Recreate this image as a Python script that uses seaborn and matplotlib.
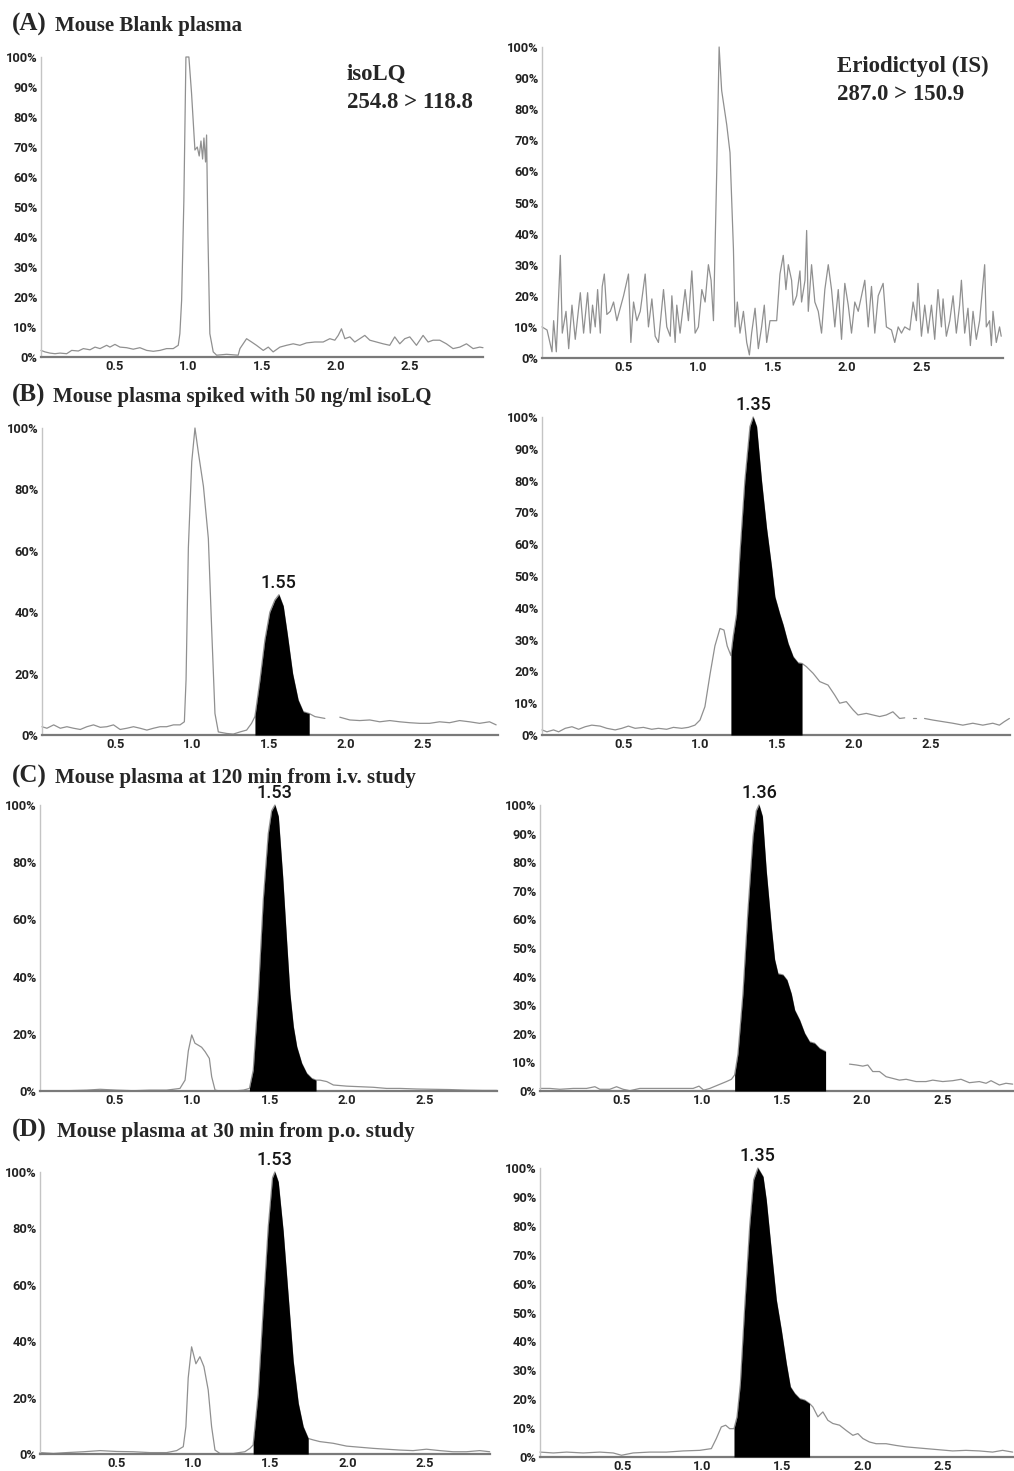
import numpy as np
import pandas as pd
import matplotlib
matplotlib.use("Agg")
import matplotlib.pyplot as plt
import seaborn as sns

# ---------------- data (time in min, relative intensity in %) ----------------
A_ISO_T = [0.0,0.027,0.061,0.095,0.129,0.174,0.208,0.253,0.287,0.332,0.366,0.4,0.445,0.467,0.501,0.535,0.58,0.625,0.67,0.716,
           0.761,0.806,0.851,0.896,0.93,0.941,0.953,0.968,0.982,1.002,1.02,1.043,1.059,1.072,1.084,1.095,1.104,1.115,1.122,1.131,
           1.144,1.167,1.19,1.257,1.336,1.348,1.393,1.427,1.46,1.506,1.54,1.573,1.619,1.664,1.709,1.754,1.799,1.856,1.912,1.957,
           1.991,2.014,2.036,2.059,2.093,2.126,2.16,2.194,2.228,2.273,2.318,2.363,2.397,2.431,2.465,2.499,2.544,2.589,2.623,2.657,
           2.702,2.747,2.792,2.838,2.883,2.928,2.973,2.995]
A_ISO_V = [2.2,1.7,1.3,1.1,1.3,1.1,2.2,2.0,2.8,2.4,3.3,2.8,3.9,3.3,4.2,3.3,3.1,2.6,3.1,2.2,
           1.9,2.2,2.8,2.8,3.9,7.8,19,52,100,100,88,69,70,67,72,66,73,65,74,41,
           7.8,1.7,0.6,0.9,0.6,2.8,6.1,5.0,3.9,2.2,3.3,1.7,3.3,3.9,4.4,3.9,4.7,5.0,5.0,6.1,
           5.6,7.2,9.4,6.1,6.7,5.0,6.1,7.2,5.6,5.0,4.4,3.9,6.7,4.4,6.1,6.7,3.9,7.2,5.0,5.6,
           5.6,4.4,2.8,3.3,4.4,2.8,3.3,3.1]

A_IS_T = [-0.047,-0.013,0.02,0.031,0.049,0.076,0.089,0.114,0.132,0.154,0.176,0.21,0.232,0.259,0.277,0.292,0.31,0.326,0.344,0.357,
          0.371,0.388,0.411,0.433,0.455,0.5,0.533,0.549,0.567,0.589,0.612,0.645,0.667,0.69,0.712,0.734,0.768,0.79,0.813,0.824,
          0.846,0.857,0.879,0.913,0.935,0.958,0.98,1.002,1.025,1.047,1.069,1.087,1.103,1.125,1.141,1.158,1.192,1.214,1.237,1.248,
          1.263,1.281,1.304,1.326,1.344,1.359,1.382,1.404,1.426,1.444,1.46,1.482,1.527,1.549,1.571,1.589,1.605,1.627,1.638,1.661,
          1.683,1.694,1.717,1.728,1.739,1.761,1.783,1.806,1.828,1.85,1.873,1.895,1.917,1.94,1.962,1.984,2.007,2.029,2.051,2.074,
          2.096,2.118,2.141,2.163,2.185,2.208,2.241,2.263,2.297,2.319,2.342,2.364,2.386,2.42,2.442,2.464,2.475,2.498,2.52,2.542,
          2.565,2.587,2.609,2.632,2.643,2.665,2.688,2.71,2.732,2.754,2.766,2.788,2.81,2.826,2.844,2.866,2.888,2.922,2.933,2.955,
          2.967,2.978,3.0,3.022,3.033]
A_IS_V = [10,9,2,12,2,33,8,15,3,17,6,21,8,21,8,17,10,22,8,23,
          27,14,15,18,12,20,27,5,18,12,15,27,10,19,7,5,22,10,7,20,
          5,17,8,22,12,28,8,10,22,18,30,25,12,60,100,86,75,66,35,10,
          18,8,15,5,1,8,16,3,10,17,5,12,12,27,33,22,30,25,17,20,
          28,18,25,41,15,30,18,15,8,22,30,22,10,22,6,24,17,8,18,15,
          20,25,10,23,8,20,24,10,9,5,10,8,10,9,18,12,24,7,17,8,
          17,6,22,10,19,7,12,20,8,17,25,8,16,4,15,6,12,30,10,12,
          4,15,5,10,7]

B_ISO_T = [0.024,0.056,0.1,0.143,0.186,0.229,0.273,0.316,0.359,0.403,0.446,0.489,0.532,0.576,0.619,0.662,0.706,0.749,0.792,0.835,
           0.879,0.922,0.95,0.961,0.976,0.998,1.019,1.041,1.074,1.106,1.128,1.149,1.171,1.225,1.268,1.312,1.355,1.387,1.409,1.442,
           1.474,1.506,1.539,1.565,1.593,1.619,1.654,1.69,1.723,1.762,1.799,1.864,1.91,1.961,2.026,2.091,2.156,2.221,2.286,2.351,
           2.416,2.481,2.545,2.61,2.675,2.74,2.805,2.87,2.935,2.978]
B_ISO_V = [2.7,2.2,3.3,2.2,2.7,2.2,1.8,2.7,3.3,2.5,2.7,3.3,1.8,2.2,2.7,2.2,1.6,2.2,2.7,2.7,
           3.3,3.3,4.3,18,61,89,100,92,81,64,34,7,1,0.5,0.3,1,1.6,3.8,6,18,
           31,40,44,45.7,42,33,20,11.4,7.6,7,6,5.4,None,5.8,4.9,4.7,4.9,4.3,4.7,4.3,
           4,3.8,3.8,4.3,4,4.7,4.3,3.8,4.3,3.3]

B_IS_T = [-0.03,0.002,0.045,0.078,0.121,0.165,0.208,0.251,0.294,0.348,0.392,0.446,0.489,0.532,0.576,0.63,0.684,0.727,0.781,0.825,
          0.879,0.922,0.965,0.998,1.03,1.063,1.095,1.128,1.154,1.175,1.199,1.214,1.236,1.258,1.29,1.323,1.344,1.366,1.398,1.431,
          1.463,1.485,1.517,1.539,1.571,1.604,1.636,1.662,1.69,1.734,1.777,1.831,1.874,1.907,1.95,1.994,2.026,2.08,2.123,2.167,
          2.21,2.253,2.297,2.33,2.35,2.383,2.405,2.43,2.459,2.513,2.578,2.643,2.708,2.773,2.838,2.903,2.946,2.978,3.011]
B_IS_V = [1.6,1,1.6,1,2.1,2.6,1.8,2.6,3.1,2.8,2.1,1.6,2.1,2.8,2.1,2.4,1.8,2.1,1.8,2.4,
          2.1,2.4,3.1,4.7,8.9,19,28,33.5,33,28,25,31,38,57,80,97,100,97,80,65,
          53,43.5,38,34.6,28.8,24.6,22.7,22.5,21.5,19.4,16.8,15.7,12.6,10,10.5,7.9,6.3,6.8,6.3,5.8,
          6.3,7.3,5.2,5.4,None,5.2,5.2,None,5.2,4.7,4.2,3.7,3.1,3.7,3.1,3.7,3.1,4.2,5.2]

C_ISO_T = [0.015,0.188,0.317,0.403,0.511,0.619,0.726,0.834,0.92,0.953,0.974,0.996,1.017,1.039,1.06,1.082,1.11,1.125,1.147,1.179,
           1.265,1.33,1.369,1.394,1.427,1.459,1.491,1.513,1.534,1.556,1.584,1.61,1.631,1.653,1.675,1.707,1.739,1.772,1.8,1.825,
           1.869,1.912,1.998,2.084,2.17,2.256,2.343,2.45,2.558,2.666,2.774,2.881,2.968]
C_ISO_V = [0.1,0.1,0.3,0.6,0.3,0.1,0.3,0.3,0.9,3.8,14,19.6,16.7,16,15.3,13.8,11.4,5,0.3,0,
           0,0.3,0.9,7.3,34,67,90,98,100,96,75,52,34,22.5,15.5,9.7,6.2,4.4,3.8,3.8,
           3.3,2.1,1.7,1.5,1.3,0.9,0.9,0.7,0.6,0.5,0.3,0.2,0.2]

C_IS_T = [-0.008,0.054,0.116,0.199,0.282,0.334,0.365,0.427,0.469,0.51,0.552,0.614,0.697,0.78,0.863,0.946,0.983,1.012,1.05,1.102,
          1.154,1.185,1.205,1.226,1.257,1.288,1.32,1.34,1.357,1.378,1.402,1.434,1.454,1.475,1.506,1.531,1.558,1.579,1.61,1.641,
          1.672,1.703,1.734,1.772,1.85,1.921,1.963,2.004,2.035,2.066,2.108,2.149,2.191,2.232,2.274,2.336,2.398,2.44,2.502,2.564,
          2.616,2.668,2.73,2.772,2.803,2.855,2.896,2.938]
C_IS_V = [0.9,0.9,0.6,0.9,0.9,1.5,0.6,0.6,1.5,0.6,0.1,0.9,0.9,0.9,0.9,0.9,1.7,0.3,0.9,2.1,
          3.3,4.1,5.6,13,34,63,89,98,100,96,77,57,46,41,40.6,38.8,34,28.3,24.8,20.2,
          17.2,16.7,14.9,13.8,None,9.4,9.1,8.7,9.1,6.8,6.8,5,4.4,3.8,4.1,3.3,3.3,3.8,3.3,3.6,
          4.1,2.9,3.3,2.7,3.6,2.1,2.7,2.4]

D_ISO_T = [0.002,0.089,0.175,0.284,0.392,0.5,0.608,0.716,0.825,0.89,0.933,0.95,0.965,0.987,1.015,1.041,1.067,1.095,1.117,1.139,
           1.171,1.258,1.333,1.366,1.387,1.42,1.452,1.485,1.513,1.528,1.55,1.582,1.615,1.647,1.68,1.712,1.745,1.777,1.82,1.907,
           1.994,2.08,2.167,2.253,2.34,2.426,2.513,2.6,2.686,2.773,2.859,2.924]
D_ISO_V = [0.5,0.2,0.5,0.8,1.2,0.9,0.8,0.5,0.5,1.2,2.6,9.7,27,38,32,34.5,31,22.7,9.7,1.4,
           0.2,0.2,0.8,2,3.2,21.5,51,80.5,98,100,96.5,79,55.7,33,18,9.7,5.5,5,4.4,3.8,
           2.8,2.4,2,1.7,1.4,1.2,1.7,1.2,0.8,0.8,1.2,0.8]

D_IS_T = [-0.012,0.071,0.154,0.257,0.361,0.444,0.496,0.568,0.672,0.776,0.88,0.983,1.056,1.087,1.118,1.145,1.17,1.197,1.216,1.237,
          1.263,1.295,1.32,1.346,1.378,1.398,1.429,1.461,1.492,1.523,1.548,1.575,1.606,1.637,1.668,1.689,1.72,1.751,1.782,1.813,
          1.855,1.896,1.938,1.969,2.0,2.041,2.083,2.145,2.207,2.27,2.332,2.394,2.477,2.56,2.643,2.726,2.809,2.871,2.934]
D_IS_V = [1.7,1.4,1.7,1.4,1.7,1.4,0.6,1.4,1.7,1.7,2.1,2.3,2.9,6.4,10.4,11,9.8,9.8,13.9,25.4,
          51,80,96,100,97,89,71.7,54.3,43.9,32.4,24.3,22,20.2,19.7,18.5,17.3,13.9,15.6,12.7,11.6,
          11,9.2,7.5,8.1,6.4,5.2,4.6,4.6,4,3.5,3.2,2.9,2.5,2.1,2.3,2.1,1.7,2.3,1.7]

# integrated (filled) peak windows and their retention-time labels
FILL_WINDOWS = {"B_ISO": (1.409, 1.762), "B_IS": (1.199, 1.662),
                "C_ISO": (1.369, 1.800), "C_IS": (1.205, 1.772),
                "D_ISO": (1.387, 1.745), "D_IS": (1.197, 1.668)}
PEAK_LABELS = {"B_ISO": "1.55", "B_IS": "1.35", "C_ISO": "1.53",
               "C_IS": "1.36", "D_ISO": "1.53", "D_IS": "1.35"}

PANEL_TITLES = [("(A)", "Mouse Blank plasma"),
                ("(B)", "Mouse plasma spiked with 50 ng/ml isoLQ"),
                ("(C)", "Mouse plasma at 120 min from i.v. study"),
                ("(D)", "Mouse plasma at 30 min from p.o. study")]
X_TICKS = [0.5, 1.0, 1.5, 2.0, 2.5]
X_TICK_LABELS = ["0.5", "1.0", "1.5", "2.0", "2.5"]

# ---------------- style ----------------
sns.set_theme(style="white")
plt.rcParams["font.family"] = ["DejaVu Sans"]
SANS = ["Roboto", "DejaVu Sans"]
SERIF = ["Liberation Serif", "DejaVu Serif"]
TRACE_COLOR = "#909090"

W, H = 1014, 1471
fig = plt.figure(figsize=(W / 100, H / 100), dpi=100)
fig.patch.set_facecolor("white")

# layout in pixels: (left, right, y of 0 %, y of 100 %, xlo, xhi, ystep)
LAYOUT = {
    "A_ISO": (41, 483, 357, 57, 0.0, 2.995, 10),
    "A_IS":  (542, 1003, 358, 47, -0.047, 3.045, 10),
    "B_ISO": (42, 498, 735, 428, 0.024, 2.99, 20),
    "B_IS":  (542, 1010, 735, 417, -0.03, 3.015, 10),
    "C_ISO": (40, 497, 1091, 805, 0.015, 2.97, 20),
    "C_IS":  (540, 1013, 1091, 805, -0.008, 2.94, 10),
    "D_ISO": (40, 490, 1454, 1172, 0.002, 2.926, 20),
    "D_IS":  (540, 1013, 1457, 1168, -0.012, 2.936, 10),
}
DATA = {"A_ISO": (A_ISO_T, A_ISO_V), "A_IS": (A_IS_T, A_IS_V),
        "B_ISO": (B_ISO_T, B_ISO_V), "B_IS": (B_IS_T, B_IS_V),
        "C_ISO": (C_ISO_T, C_ISO_V), "C_IS": (C_IS_T, C_IS_V),
        "D_ISO": (D_ISO_T, D_ISO_V), "D_IS": (D_IS_T, D_IS_V)}


def to_frame(t, v):
    t = np.asarray(t, float)
    v = np.array([np.nan if x is None else x for x in v], float)
    seg = np.cumsum(np.isnan(v))
    return pd.DataFrame({"t": t, "v": v, "seg": seg}).dropna()


for key, (l, r, y0, y100, xlo, xhi, ystep) in LAYOUT.items():
    ax = fig.add_axes([l / W, 1 - y0 / H, (r - l) / W, (y0 - y100) / H])
    ax.set_facecolor("white")
    t, v = DATA[key]
    df = to_frame(t, v)
    sns.lineplot(data=df, x="t", y="v", units="seg", estimator=None,
                 color=TRACE_COLOR, lw=0.9, ax=ax, legend=False)
    for ln in ax.lines:
        ln.set_clip_on(False)
    if key in FILL_WINDOWS:
        f0, f1 = FILL_WINDOWS[key]
        m = (df["t"] >= f0 - 1e-9) & (df["t"] <= f1 + 1e-9)
        sub = df[m]
        ax.fill_between(sub["t"], sub["v"], 0, color="black", lw=0, zorder=3)
        ip = sub["v"].idxmax()
        ax.annotate(PEAK_LABELS[key], (sub.loc[ip, "t"], sub.loc[ip, "v"]),
                    xytext=(0, 5), textcoords="offset points", ha="center",
                    va="baseline", fontsize=13, fontweight="medium",
                    family=SANS, color="#151515", annotation_clip=False)
    ax.set_xlim(xlo, xhi)
    ax.set_ylim(0, 100)
    ax.set_xlabel("")
    ax.set_ylabel("")
    yt = list(range(0, 101, ystep))
    ax.set_yticks(yt)
    ax.set_yticklabels([f"{y}%" for y in yt])
    ax.set_xticks(X_TICKS)
    ax.set_xticklabels(X_TICK_LABELS)
    ax.tick_params(axis="both", length=0, labelsize=9.3, colors="#222222")
    ax.tick_params(axis="y", pad=2.5)
    ax.tick_params(axis="x", pad=2.5)
    for lab in ax.get_xticklabels() + ax.get_yticklabels():
        lab.set_fontweight("bold")
        lab.set_family(SANS)
    for s in ("top", "right"):
        ax.spines[s].set_visible(False)
    ax.spines["left"].set_color("#c4c4c4")
    ax.spines["left"].set_linewidth(1.0)
    ax.spines["bottom"].set_color("#7a7a7a")
    ax.spines["bottom"].set_linewidth(1.6)
    ax.grid(False)

# panel titles
TITLE_POS = [(12, 55, 31), (12, 53, 402), (12, 55, 783), (12, 57, 1137)]
for (tag, txt), (xa, xb, yb) in zip(PANEL_TITLES, TITLE_POS):
    fig.text(xa / W, 1 - yb / H, tag, fontsize=18, fontweight="bold",
             family=SERIF, va="baseline", ha="left")
    fig.text(xb / W, 1 - yb / H, txt, fontsize=15, fontweight="bold",
             family=SERIF, va="baseline", ha="left")

# transition annotations
fig.text(347 / W, 1 - 80 / H, "isoLQ", fontsize=16.5, fontweight="bold",
         family=SERIF, va="baseline", ha="left")
fig.text(347 / W, 1 - 108 / H, "254.8 > 118.8", fontsize=16.5, fontweight="bold",
         family=SERIF, va="baseline", ha="left")
fig.text(837 / W, 1 - 72 / H, "Eriodictyol (IS)", fontsize=16.5, fontweight="bold",
         family=SERIF, va="baseline", ha="left")
fig.text(837 / W, 1 - 100 / H, "287.0 > 150.9", fontsize=16.5, fontweight="bold",
         family=SERIF, va="baseline", ha="left")

fig.savefig("out.png", dpi=100, facecolor="white")
